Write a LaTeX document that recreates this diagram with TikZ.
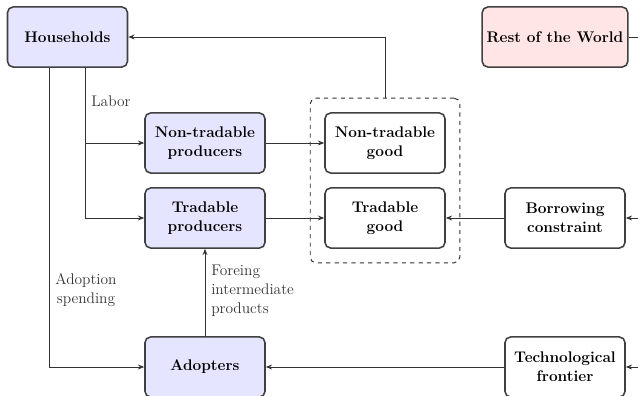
\documentclass[tikz,border=0pt]{standalone}
\usetikzlibrary{arrows.meta,fit,positioning,calc}
\begin{document}
\begin{tikzpicture}[x=0.7143pt,y=-0.7143pt,
  every node/.style={font=\fontsize{11}{13.6}\selectfont},
  box/.style={draw=black!75,line width=1.1pt,rounded corners=4pt,minimum width=85.7pt,minimum height=42.9pt,align=center,font=\fontsize{11}{13.6}\selectfont\bfseries,inner sep=2pt},
  bluebox/.style={box,fill=blue!10},
  redbox/.style={box,fill=red!10},
  whitebox/.style={box,fill=white},
  arr/.style={draw=black!80,line width=0.7pt,-{Stealth[length=4.5pt,width=3.5pt]}},
  ln/.style={draw=black!80,line width=0.7pt},
  lbl/.style={text=black!80,inner sep=0pt}]
\useasboundingbox (0,0) rectangle (638,396);
\clip (0,0) rectangle (638,396);
\node[bluebox] (hh) at (67.5,37) {Households};
\node[redbox,minimum width=104pt] (rw) at (555,37) {Rest of the World};
\node[bluebox] (ntp) at (205,143) {Non-tradable\\producers};
\node[bluebox] (tp) at (205,218) {Tradable\\producers};
\node[whitebox] (ntg) at (385,143) {Non-tradable\\good};
\node[whitebox] (tg) at (385,218) {Tradable\\good};
\node[draw=black!80,line width=0.7pt,dashed,rounded corners=4pt,fit=(ntg)(tg),inner sep=10pt] (goods) {};
\node[whitebox] (bc) at (565,218) {Borrowing\\constraint};
\node[whitebox] (tf) at (565,367) {Technological\\frontier};
\node[bluebox] (ad) at (205,367) {Adopters};
\coordinate (rwout) at (700,37);
\coordinate (bcin) at (700,218);
\coordinate (tfin) at (700,367);
% flows
\draw[arr] (goods.north) |- (hh.east);
\draw[ln] (rw.east) -- (rwout);
\draw[arr] (bcin) -- (bc.east);
\draw[arr] (tfin) -- (tf.east);
\draw[arr] ([xshift=12.5pt]hh.south) |- (ntp.west);
\draw[arr] ([xshift=12.5pt]hh.south) |- (tp.west);
\draw[arr] ([xshift=-13.2pt]hh.south) |- (ad.west);
\draw[arr] (ntp) -- (ntg);
\draw[arr] (tp) -- (tg);
\draw[arr] (bc) -- (tg);
\draw[arr] (tf) -- (ad);
\draw[arr] (ad) -- (tp);
\node[lbl,anchor=west] (labor) at (91,101) {Labor};
\node[lbl,align=center] (adsp) at (86,290) {Adoption\\spending};
\node[lbl,align=left,anchor=west] (fip) at (211,291) {Foreing\\intermediate\\products};
\end{tikzpicture}
\end{document}
